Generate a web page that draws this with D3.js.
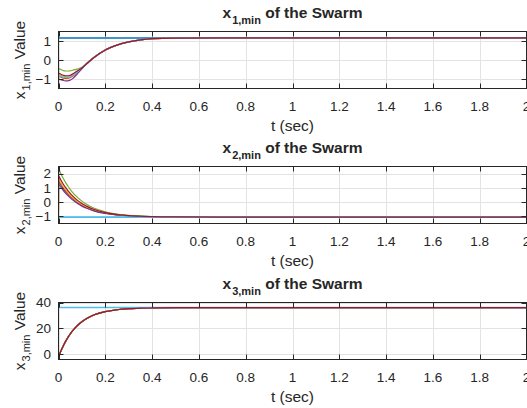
<!DOCTYPE html>
<html><head><meta charset="utf-8">
<script src="https://cdn.jsdelivr.net/npm/d3@7"></script>
<style>body{margin:0;background:#fff}svg{display:block}text{font-family:"Liberation Sans",Arial,sans-serif;fill:#262626}</style>
</head><body><svg id="c" width="527" height="408"></svg>
<script>
// time samples (sec)
const tSec = [0, 0.001, 0.01, 0.02, 0.03, 0.04, 0.05, 0.06, 0.08, 0.1, 0.12, 0.15, 0.2, 0.25, 0.3, 0.35, 0.4, 0.5, 0.7, 1.0, 2.0];
const xTicks = [0, 0.2, 0.4, 0.6, 0.8, 1, 1.2, 1.4, 1.6, 1.8, 2];
const seriesColors = ["#0072BD", "#D95319", "#EDB120", "#7E2F8E", "#77AC30", "#4DBEEE", "#A2142F"];

// panel 1: x_{1,min}
const x1Blue   = [1.16,1.16,1.16,1.16,1.16,1.16,1.16,1.16,1.16,1.16,1.16,1.16,1.16,1.16,1.16,1.16,1.16,1.16,1.16,1.16,1.16];
const x1Orange = [-0.85,-0.85,-0.9,-0.95,-0.97,-0.97,-0.93,-0.86,-0.66,-0.43,-0.2,0.12,0.53,0.78,0.95,1.06,1.12,1.15,1.16,1.16,1.16];
const x1Yellow = [-0.75,-0.75,-0.8,-0.84,-0.86,-0.86,-0.83,-0.77,-0.6,-0.41,-0.19,0.12,0.53,0.78,0.95,1.06,1.12,1.15,1.16,1.16,1.16];
const x1Purple = [-1.0,-1.0,-1.04,-1.08,-1.1,-1.1,-1.06,-0.98,-0.74,-0.46,-0.22,0.11,0.52,0.78,0.95,1.06,1.12,1.15,1.16,1.16,1.16];
const x1Green  = [-1.2,-0.45,-0.5,-0.55,-0.58,-0.58,-0.57,-0.54,-0.48,-0.38,-0.18,0.13,0.54,0.79,0.95,1.06,1.12,1.15,1.16,1.16,1.16];
const x1Cyan   = [-0.82,-0.82,-0.86,-0.9,-0.92,-0.92,-0.88,-0.82,-0.63,-0.42,-0.2,0.12,0.53,0.78,0.95,1.06,1.12,1.15,1.16,1.16,1.16];
const x1Red    = [-0.7,-0.7,-0.75,-0.8,-0.83,-0.83,-0.8,-0.74,-0.58,-0.42,-0.2,0.12,0.53,0.78,0.95,1.06,1.12,1.15,1.16,1.16,1.16];
const x1Ticks = [-1, 0, 1];

// panel 2: x_{2,min}
const x2Blue   = [1.45,1.42,1.19,0.95,0.74,0.55,0.39,0.23,-0.02,-0.23,-0.39,-0.58,-0.78,-0.9,-0.96,-1.0,-1.02,-1.04,-1.05,-1.05,-1.05];
const x2Orange = [1.55,1.52,1.28,1.03,0.81,0.62,0.44,0.28,0.02,-0.19,-0.36,-0.56,-0.77,-0.89,-0.96,-1.0,-1.02,-1.04,-1.05,-1.05,-1.05];
const x2Yellow = [1.65,1.62,1.37,1.11,0.89,0.68,0.5,0.34,0.06,-0.16,-0.34,-0.54,-0.76,-0.88,-0.95,-1.0,-1.02,-1.04,-1.05,-1.05,-1.05];
const x2Purple = [1.3,1.27,1.05,0.83,0.63,0.46,0.3,0.16,-0.08,-0.28,-0.43,-0.61,-0.8,-0.9,-0.97,-1.0,-1.02,-1.04,-1.05,-1.05,-1.05];
const x2Green  = [-1.05,2.31,1.99,1.67,1.39,1.13,0.9,0.69,0.35,0.07,-0.15,-0.41,-0.68,-0.84,-0.93,-0.98,-1.01,-1.04,-1.05,-1.05,-1.05];
const x2Cyan   = [-1.05,-1.05,-1.05,-1.05,-1.05,-1.05,-1.05,-1.05,-1.05,-1.05,-1.05,-1.05,-1.05,-1.05,-1.05,-1.05,-1.05,-1.05,-1.05,-1.05,-1.05];
const x2Red    = [-0.6,1.82,1.55,1.27,1.03,0.81,0.61,0.44,0.14,-0.1,-0.28,-0.5,-0.74,-0.87,-0.95,-0.99,-1.02,-1.04,-1.05,-1.05,-1.05];
const x2Ticks = [-1, 0, 1, 2];

// panel 3: x_{3,min}
const x3Blue   = [-1.8,-1.4,2.6,6.5,10.0,13.1,15.8,18.2,22.2,25.3,27.7,30.4,33.0,34.4,35.2,35.6,35.8,36.0,36.1,36.1,36.1];
const x3Orange = [-2.2,-1.7,2.4,6.3,9.8,12.9,15.6,18.0,22.0,25.1,27.5,30.2,32.9,34.4,35.2,35.6,35.8,36.0,36.1,36.1,36.1];
const x3Yellow = [-2.0,-1.5,2.5,6.4,9.9,13.0,15.7,18.1,22.1,25.2,27.6,30.3,33.0,34.4,35.2,35.6,35.8,36.0,36.1,36.1,36.1];
const x3Purple = [-2.1,-1.6,2.4,6.3,9.8,12.9,15.6,18.0,22.0,25.1,27.5,30.3,32.9,34.4,35.2,35.6,35.8,36.0,36.1,36.1,36.1];
const x3Green  = [-1.9,-1.5,2.5,6.4,9.9,13.0,15.7,18.1,22.1,25.2,27.6,30.3,33.0,34.4,35.2,35.6,35.8,36.0,36.1,36.1,36.1];
const x3Cyan   = [36.1,36.1,36.1,36.1,36.1,36.1,36.1,36.1,36.1,36.1,36.1,36.1,36.1,36.1,36.1,36.1,36.1,36.1,36.1,36.1,36.1];
const x3Red    = [-2.0,-1.54,2.5,6.4,9.9,13.0,15.7,18.1,22.1,25.2,27.6,30.3,33.0,34.4,35.2,35.6,35.8,36.0,36.1,36.1,36.1];
const x3Ticks = [0, 20, 40];

const panels = [
  {sub: "1,min", domain: [-1.5, 1.5], ticks: x1Ticks, series: [x1Blue, x1Orange, x1Yellow, x1Purple, x1Green, x1Cyan, x1Red], top: 31.5},
  {sub: "2,min", domain: [-1.5, 2.5], ticks: x2Ticks, series: [x2Blue, x2Orange, x2Yellow, x2Purple, x2Green, x2Cyan, x2Red], top: 166.5},
  {sub: "3,min", domain: [-4, 40], ticks: x3Ticks, series: [x3Blue, x3Orange, x3Yellow, x3Purple, x3Green, x3Cyan, x3Red], top: 302.5}
];

const svg = d3.select("#c");
const left = 58.5, right = 526.5, H = 57;
const x = d3.scaleLinear().domain([0, 2]).range([left, right]);
const axisCol = "#262626", gridCol = "#e3e3e3";

panels.forEach((p, pi) => {
  const top = p.top, bottom = top + H;
  const y = d3.scaleLinear().domain(p.domain).range([bottom, top]);
  const g = svg.append("g");
  const clipId = "clip" + pi;
  g.append("clipPath").attr("id", clipId).append("rect")
    .attr("x", left).attr("y", top).attr("width", right - left).attr("height", H);
  // grid
  g.selectAll(".gx").data(xTicks).join("line")
    .attr("x1", d => Math.round(x(d)) + 0.5).attr("x2", d => Math.round(x(d)) + 0.5)
    .attr("y1", top).attr("y2", bottom).attr("stroke", gridCol);
  g.selectAll(".gy").data(p.ticks).join("line")
    .attr("y1", d => Math.round(y(d)) + 0.5).attr("y2", d => Math.round(y(d)) + 0.5)
    .attr("x1", left).attr("x2", right).attr("stroke", gridCol);
  // lines
  const line = d3.line().x((d, i) => x(tSec[i])).y(d => y(d)).curve(d3.curveMonotoneX);
  const lg = g.append("g").attr("clip-path", `url(#${clipId})`);
  p.series.forEach((s, si) => {
    const flat = d3.extent(s)[0] === d3.extent(s)[1];
    lg.append("path").attr("d", line(s)).attr("fill", "none")
      .attr("stroke", seriesColors[si]).attr("stroke-width", flat ? 1.6 : 1.2);
  });
  // box
  g.append("rect").attr("x", left).attr("y", top).attr("width", right - left).attr("height", H)
    .attr("fill", "none").attr("stroke", axisCol).attr("stroke-width", 1);
  // x ticks (inward, top and bottom)
  const tl = 5;
  xTicks.forEach(d => {
    const xx = Math.round(x(d)) + 0.5;
    g.append("line").attr("x1", xx).attr("x2", xx).attr("y1", bottom).attr("y2", bottom - tl).attr("stroke", axisCol);
    g.append("line").attr("x1", xx).attr("x2", xx).attr("y1", top).attr("y2", top + tl).attr("stroke", axisCol);
    g.append("text").attr("x", x(d)).attr("y", bottom + 22).attr("text-anchor", "middle")
      .attr("font-size", "13.5px").text(d3.format("~g")(d));
  });
  p.ticks.forEach(d => {
    const yy = Math.round(y(d)) + 0.5;
    g.append("line").attr("x1", left).attr("x2", left + tl).attr("y1", yy).attr("y2", yy).attr("stroke", axisCol);
    g.append("line").attr("x1", right).attr("x2", right - tl).attr("y1", yy).attr("y2", yy).attr("stroke", axisCol);
    g.append("text").attr("x", 51).attr("y", y(d)).attr("dy", "0.35em").attr("text-anchor", "end")
      .attr("font-size", "13.5px").text(d3.format("~g")(d));
  });
  // x label
  g.append("text").attr("x", (left + right) / 2).attr("y", bottom + 42).attr("text-anchor", "middle")
    .attr("font-size", "15.5px").text("t (sec)");
  // title
  const tt = g.append("text").attr("x", (left + right) / 2).attr("y", top - 13.5).attr("text-anchor", "middle")
    .attr("font-size", "15.5px").attr("font-weight", "bold");
  tt.append("tspan").text("x");
  tt.append("tspan").attr("font-size", "11px").attr("dy", 6).attr("dx", 1).text(p.sub);
  tt.append("tspan").attr("dy", -6).text(" of the Swarm");
  // y label
  const yl = g.append("text").attr("transform", `translate(25,${(top + bottom) / 2}) rotate(-90)`)
    .attr("text-anchor", "middle").attr("font-size", "15.5px");
  yl.append("tspan").text("x");
  yl.append("tspan").attr("font-size", "11px").attr("dy", 5).attr("dx", 1).text(p.sub);
  yl.append("tspan").attr("dy", -5).text(" Value");
});
</script></body></html>
